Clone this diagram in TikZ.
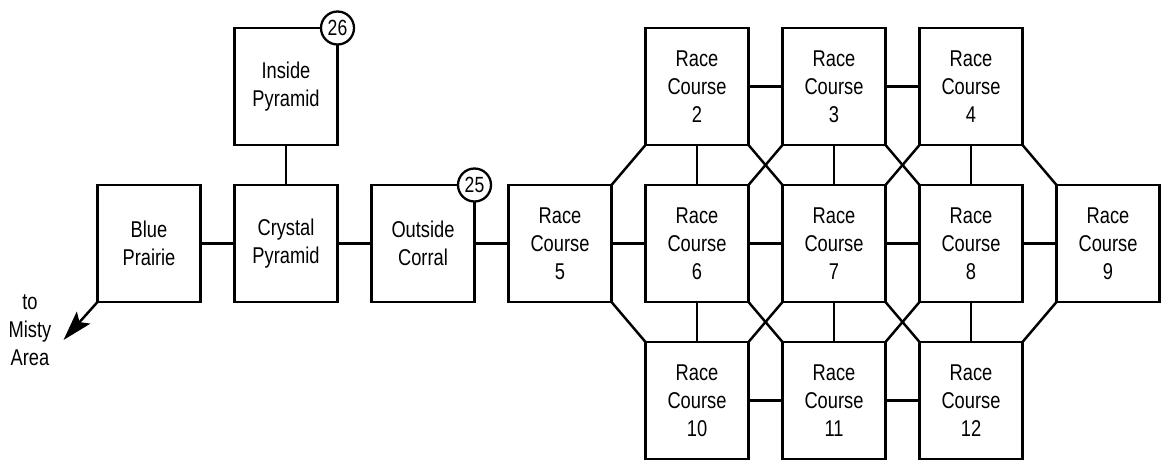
\documentclass[tikz,border=0pt]{standalone}
\usepackage{fontspec}
\setmainfont{Liberation Sans}[FakeStretch=0.8]
\usepackage{tikz}
\usetikzlibrary{positioning,arrows.meta}

\begin{document}
\begin{tikzpicture}[
    font=\fontsize{13}{15.9}\selectfont,
    room/.style={rectangle, draw=black, fill=white, minimum width=2.06cm,
      minimum height=2.34cm, align=center, line width=1.4pt, inner sep=1pt, outer sep=0pt},
    tag/.style={circle, draw=black, fill=white, minimum size=0.66cm, inner sep=0pt,
      line width=1.3pt, font=\fontsize{12.5}{12.5}\selectfont},
    link/.style={line width=1.4pt, color=black},
    arr/.style={-{Stealth[length=0.6cm,width=0.36cm,inset=0.12cm]}, line width=1.4pt, color=black}
  ]
    \path[use as bounding box, fill=white] (0,0) rectangle (23.3,-9.26);

    % pyramid side
    \node[room] (bp) at (2.98,-4.87) {Blue\\Prairie};
    \node[room, right=0.68cm of bp] (cp) {Crystal\\Pyramid};
    \node[room, above=0.8cm of cp] (ip) {Inside\\Pyramid};
    \node[room, right=0.68cm of cp] (oc) {Outside\\Corral};

    % race courses
    \node[room, right=0.68cm of oc] (rc5) {Race\\Course\\5};
    \node[room, right=0.68cm of rc5] (rc6) {Race\\Course\\6};
    \node[room, right=0.68cm of rc6] (rc7) {Race\\Course\\7};
    \node[room, right=0.68cm of rc7] (rc8) {Race\\Course\\8};
    \node[room, right=0.68cm of rc8] (rc9) {Race\\Course\\9};
    \node[room, above=0.8cm of rc6] (rc2) {Race\\Course\\2};
    \node[room, above=0.8cm of rc7] (rc3) {Race\\Course\\3};
    \node[room, above=0.8cm of rc8] (rc4) {Race\\Course\\4};
    \node[room, below=0.8cm of rc6] (rc10) {Race\\Course\\10};
    \node[room, below=0.8cm of rc7] (rc11) {Race\\Course\\11};
    \node[room, below=0.8cm of rc8] (rc12) {Race\\Course\\12};

    % numbered tags
    \node[tag] (t26) at (ip.north east) {26};
    \node[tag] (t25) at (oc.north east) {25};

    % exit
    \coordinate[below left=0.76cm and 0.68cm of bp.south west] (tip);
    \node[align=center, left=0.12cm of tip, yshift=0.2cm] (misty) {to\\Misty\\Area};
    \draw[arr] (bp.south west) -- (tip);

    % straight links
    \draw[link] (bp) -- (cp);
    \draw[link] (ip) -- (cp);
    \draw[link] (cp) -- (oc);
    \draw[link] (oc) -- (rc5);
    \draw[link] (rc5) -- (rc6);
    \draw[link] (rc6) -- (rc7);
    \draw[link] (rc7) -- (rc8);
    \draw[link] (rc8) -- (rc9);
    \draw[link] (rc2) -- (rc3);
    \draw[link] (rc3) -- (rc4);
    \draw[link] (rc10) -- (rc11);
    \draw[link] (rc11) -- (rc12);
    \draw[link] (rc2) -- (rc6);
    \draw[link] (rc3) -- (rc7);
    \draw[link] (rc4) -- (rc8);
    \draw[link] (rc6) -- (rc10);
    \draw[link] (rc7) -- (rc11);
    \draw[link] (rc8) -- (rc12);

    % diagonal links
    \draw[link] (rc2.south west) -- (rc5.north east);
    \draw[link] (rc5.south east) -- (rc10.north west);
    \draw[link] (rc2.south east) -- (rc7.north west);
    \draw[link] (rc3.south west) -- (rc6.north east);
    \draw[link] (rc3.south east) -- (rc8.north west);
    \draw[link] (rc4.south west) -- (rc7.north east);
    \draw[link] (rc4.south east) -- (rc9.north west);
    \draw[link] (rc6.south east) -- (rc11.north west);
    \draw[link] (rc7.south west) -- (rc10.north east);
    \draw[link] (rc7.south east) -- (rc12.north west);
    \draw[link] (rc8.south west) -- (rc11.north east);
    \draw[link] (rc9.south west) -- (rc12.north east);
  \end{tikzpicture}
\end{document}
